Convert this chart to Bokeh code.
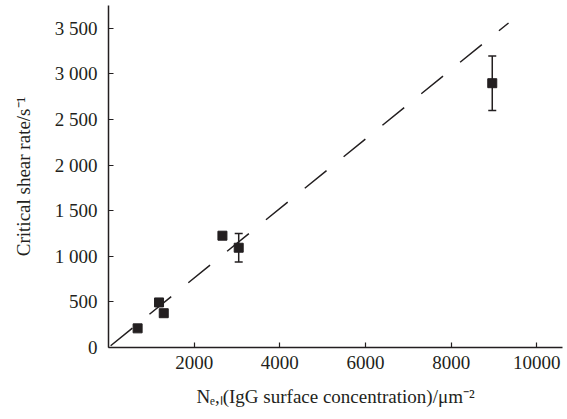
from bokeh.plotting import figure
from bokeh.models import FixedTicker, Range1d
from bokeh.embed import file_html
from bokeh.resources import INLINE

# data
conc = [680, 1180, 1290, 2660, 3040, 8960]          # IgG surface concentration / um^-2
rate = [210, 494, 376, 1226, 1094, 2898]            # critical shear rate / s^-1
err = [30, 0, 0, 35, 156, 298]                      # error half-widths
fit_x = [50, 9340]
fit_slope = 0.381
fit_y = [fit_slope * v for v in fit_x]

x_ticks = [2000, 4000, 6000, 8000, 10000]
x_tick_labels = ["2000", "4000", "6000", "8000", "10000"]
y_ticks = [0, 500, 1000, 1500, 2000, 2500, 3000, 3500]
y_tick_labels = ["0", "500", "1 000", "1 500", "2 000", "2 500", "3 000", "3 500"]

INK = "#231f20"
FONT = "Liberation Serif"

p = figure(width=563, height=417, x_range=Range1d(0, 10600), y_range=Range1d(0, 3750),
           output_backend="svg", toolbar_location=None,
           min_border_left=108, min_border_right=1, min_border_top=5, min_border_bottom=70)
p.outline_line_color = None
p.grid.visible = False
p.background_fill_color = "white"

for ax in (p.xaxis[0], p.yaxis[0]):
    ax.axis_line_color = INK
    ax.axis_line_width = 1.5
    ax.major_tick_line_color = INK
    ax.major_tick_line_width = 1.2
    ax.major_tick_in = 5
    ax.major_tick_out = 0
    ax.minor_tick_line_color = None
    ax.major_label_text_font = FONT
    ax.major_label_text_font_size = "19px"
    ax.major_label_text_color = INK
    ax.axis_label_text_font = FONT
    ax.axis_label_text_font_style = "normal"
    ax.axis_label_text_font_size = "19px"
    ax.axis_label_text_color = INK

p.xaxis.ticker = FixedTicker(ticks=x_ticks)
p.xaxis.major_label_overrides = {t: l for t, l in zip(x_ticks, x_tick_labels)}
p.xaxis.major_label_standoff = 8
p.xaxis.axis_label = "N\u2091,\u2097(IgG surface concentration)/\u03bcm\u207b\u00b2"
p.xaxis.axis_label_standoff = 14

p.yaxis.ticker = FixedTicker(ticks=y_ticks)
p.yaxis.major_label_overrides = {t: l for t, l in zip(y_ticks, y_tick_labels)}
p.yaxis.major_label_standoff = 11
p.yaxis.axis_label = "Critical shear rate/s\u207b\u00b9"
p.yaxis.axis_label_standoff = 18

# dashed fit line
p.line(fit_x, fit_y, line_color=INK, line_width=1.5, line_dash="28 22")

# error bars
ex = [x for x, e in zip(conc, err) if e > 0]
elo = [y - e for y, e in zip(rate, err) if e > 0]
ehi = [y + e for y, e in zip(rate, err) if e > 0]
p.segment(ex, elo, ex, ehi, line_color=INK, line_width=1.5)
p.dash(ex + ex, elo + ehi, size=8, line_color=INK, line_width=1.5)

# markers
p.scatter(conc, rate, marker="square", size=9, fill_color=INK, line_color=INK)

open("out.html", "w").write(file_html(p, INLINE))
